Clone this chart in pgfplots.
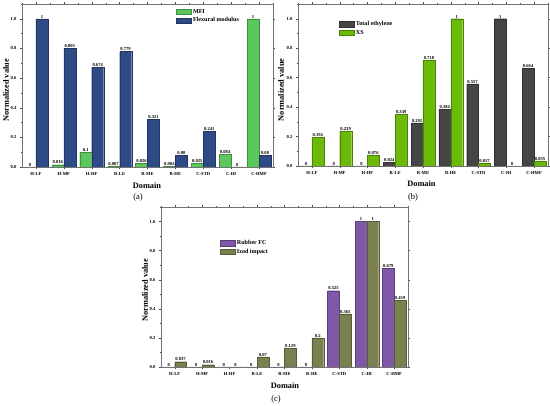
\documentclass[border=0pt]{standalone}
\usepackage{fontspec}
\setmainfont{Liberation Serif}
\usepackage{pgfplots}
\pgfplotsset{compat=1.18}
\definecolor{cmfi}{HTML}{5CC85C}
\definecolor{cflex}{HTML}{2E4A87}
\definecolor{ceth}{HTML}{454545}
\definecolor{cxs}{HTML}{6BBA0A}
\definecolor{crub}{HTML}{8058A8}
\definecolor{cizod}{HTML}{7A8050}
\pgfplotsset{
  mybar/.style={
    scale only axis, ybar=0pt, ymin=0, ymax=1.1, xmin=-0.5, xmax=8.5,
    xtick={0,...,8},
    xticklabels={H-LF,H-MF,H-HF,R-LE,R-ME,R-HE,C-STD,C-HI,C-HMF},
    minor xtick={-0.5,0.5,...,8.5},
    ytick={0,0.2,0.4,0.6,0.8,1.0},
    minor ytick={0.1,0.3,0.5,0.7,0.9,1.1},
    tick align=outside, major tick length=2pt, minor tick length=1pt,
    tick style={black!70, line width=0.3pt},
    bar width=0.43,
    axis line style={black!55, line width=0.4pt},
    /pgf/number format/assume math mode=true,
    ticklabel style={font=\fontsize{4.6}{5}\selectfont\bfseries},
    yticklabel style={/pgf/number format/.cd, fixed, fixed zerofill, precision=1},
    xlabel={Domain}, ylabel={Normalized value},
    label style={font=\fontsize{8.3}{9}\selectfont\bfseries},
    nodes near coords, point meta=explicit symbolic,
    every node near coord/.append style={font=\fontsize{4.6}{5}\selectfont\bfseries, inner sep=0.6pt, black},
    legend style={draw=none, fill=none, font=\fontsize{6.1}{6.5}\selectfont\bfseries,
      anchor=north west, inner sep=0.5pt, row sep=-1pt, cells={anchor=west}},
    legend image code/.code={\draw[#1, line width=0.2pt] (0pt,-2.7pt) rectangle (15pt,2.7pt);},
  },
}
\begin{document}
\begin{tikzpicture}
\useasboundingbox (0,0) rectangle (550pt,406pt);
% (a)
\begin{axis}[mybar, width=251pt, height=163pt, at={(22pt,239pt)}, anchor=south west,
  xlabel style={at={(axis description cs:0.498,-0.117)}, anchor=center},
  ylabel style={at={(axis description cs:-0.064,0.47)}, anchor=center},
  legend style={at={(axis description cs:0.61,0.985)}}]
\addplot[fill=cmfi, draw=cmfi!70!black, line width=0.2pt] coordinates {
 (0,0)[0] (1,0.016)[0.016] (2,0.1)[0.1] (3,0.007)[0.007] (4,0.026)[0.026]
 (5,0.004)[0.004] (6,0.025)[0.025] (7,0.084)[0.084] (8,1)[1]};
\addplot[fill=cflex, draw=cflex!70!black, line width=0.2pt] coordinates {
 (0,1)[1] (1,0.803)[0.803] (2,0.674)[0.674] (3,0.779)[0.779] (4,0.321)[0.321]
 (5,0.08)[0.08] (6,0.241)[0.241] (7,0)[0] (8,0.08)[0.08]};
\legend{MFI,Flexural modulus}
\end{axis}
% (b)
\begin{axis}[mybar, width=250pt, height=162pt, at={(298pt,240pt)}, anchor=south west,
  xlabel style={at={(axis description cs:0.494,-0.111)}, anchor=center},
  ylabel style={at={(axis description cs:-0.068,0.47)}, anchor=center},
  legend style={at={(axis description cs:0.16,0.91)}}]
\addplot[fill=ceth, draw=ceth!70!black, line width=0.2pt] coordinates {
 (0,0)[0] (1,0)[0] (2,0)[0] (3,0.024)[0.024] (4,0.292)[0.292]
 (5,0.384)[0.384] (6,0.557)[0.557] (7,1)[1] (8,0.664)[0.664]};
\addplot[fill=cxs, draw=cxs!70!black, line width=0.2pt] coordinates {
 (0,0.194)[0.194] (1,0.239)[0.239] (2,0.076)[0.076] (3,0.349)[0.349] (4,0.718)[0.718]
 (5,1)[1] (6,0.017)[0.017] (7,0)[0] (8,0.035)[0.035]};
\legend{Total ethylene,XS}
\end{axis}
% (c)
\begin{axis}[mybar, width=247pt, height=160pt, at={(161pt,39pt)}, anchor=south west,
  xlabel style={at={(axis description cs:0.502,-0.119)}, anchor=center},
  ylabel style={at={(axis description cs:-0.065,0.48)}, anchor=center},
  legend style={at={(axis description cs:0.235,0.81)}}]
\addplot[fill=crub, draw=crub!70!black, line width=0.2pt] coordinates {
 (0,0)[0] (1,0)[0] (2,0)[0] (3,0)[0] (4,0)[0]
 (5,0)[0] (6,0.525)[0.525] (7,1)[1] (8,0.679)[0.679]};
\addplot[fill=cizod, draw=cizod!70!black, line width=0.2pt] coordinates {
 (0,0.037)[0.037] (1,0.016)[0.016] (2,0)[0] (3,0.07)[0.07] (4,0.129)[0.129]
 (5,0.2)[0.2] (6,0.365)[0.365] (7,1)[1] (8,0.459)[0.459]};
\legend{Rubber FC,Izod impact}
\end{axis}
\node[font=\fontsize{8.5}{9}\selectfont] at (138pt,209pt) {(a)};
\node[font=\fontsize{8.5}{9}\selectfont] at (413pt,209pt) {(b)};
\node[font=\fontsize{8.5}{9}\selectfont] at (276pt,7pt) {(c)};
\end{tikzpicture}
\end{document}
